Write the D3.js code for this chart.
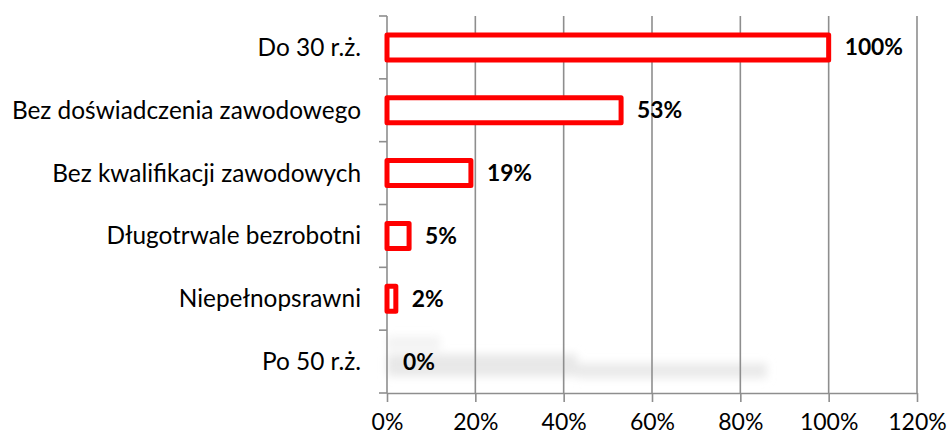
<!DOCTYPE html>
<html>
<head>
<meta charset="utf-8">
<script src="https://cdn.jsdelivr.net/npm/d3@7"></script>
<style>
  html, body { margin: 0; padding: 0; background: #fff; }
  svg { display: block; }
  text { font-family: Lato, "Open Sans", sans-serif; fill: #000; }
</style>
</head>
<body>
<svg id="chart" width="948" height="439"></svg>
<script>
// Share of groups among participants
const categories = [
  "Do 30 r.ż.",
  "Bez doświadczenia zawodowego",
  "Bez kwalifikacji zawodowych",
  "Długotrwale bezrobotni",
  "Niepełnopsrawni",
  "Po 50 r.ż."
];
const values = [1.00, 0.53, 0.19, 0.05, 0.02, 0.00];
const xTicks = [0, 0.2, 0.4, 0.6, 0.8, 1.0, 1.2];

const svg = d3.select("#chart");
const margin = { top: 16, right: 31, bottom: 46, left: 387 };
const W = 948, H = 439;
const innerW = W - margin.left - margin.right;
const innerH = H - margin.top - margin.bottom;

const x = d3.scaleLinear().domain([0, 1.2]).range([0, innerW]);
const y = d3.scaleBand().domain(categories).range([0, innerH]).padding(0);

const g = svg.append("g").attr("transform", `translate(${margin.left},${margin.top})`);

// soft grey haze in the bottom row
const defs = svg.append("defs");
defs.append("filter").attr("id", "haze").attr("x", "-20%").attr("y", "-100%")
  .attr("width", "140%").attr("height", "300%")
  .append("feGaussianBlur").attr("stdDeviation", 4.5);
const hz = g.append("g").attr("filter", "url(#haze)");
const lastBand = y(categories[categories.length - 1]);
hz.append("rect").attr("x", x(0)).attr("y", lastBand + 6).attr("width", x(0.12)).attr("height", 14)
  .attr("fill", "#f3f3f3");
hz.append("rect").attr("x", x(0)).attr("y", lastBand + 24).attr("width", x(0.43)).attr("height", 22)
  .attr("fill", "#e8e8e8");
hz.append("rect").attr("x", x(0.43)).attr("y", lastBand + 33).attr("width", x(0.86) - x(0.43)).attr("height", 15)
  .attr("fill", "#eaeaea");

// vertical gridlines
g.selectAll("line.grid").data(xTicks.slice(1)).join("line")
  .attr("class", "grid")
  .attr("x1", d => x(d)).attr("x2", d => x(d))
  .attr("y1", 0).attr("y2", innerH)
  .attr("stroke", "#8e8e8e").attr("stroke-width", 1.6);

// bottom axis
const xAxis = d3.axisBottom(x).tickValues(xTicks).tickFormat(d3.format(".0%"))
  .tickSize(9).tickSizeOuter(0).tickPadding(12);
const gx = g.append("g").attr("transform", `translate(0,${innerH})`).call(xAxis);
gx.select(".domain").attr("stroke", "#8e8e8e").attr("stroke-width", 1.6);
gx.selectAll(".tick line").attr("stroke", "#8e8e8e").attr("stroke-width", 1.6);
gx.selectAll(".tick text").attr("font-size", 23).attr("font-family", "Lato, sans-serif").attr("fill", "#000");

// left axis: line with ticks at band boundaries
const boundaries = categories.map(c => y(c)).concat([innerH]);
g.append("line").attr("x1", 0).attr("x2", 0).attr("y1", 0).attr("y2", innerH)
  .attr("stroke", "#8e8e8e").attr("stroke-width", 1.6);
g.selectAll("line.ytick").data(boundaries).join("line")
  .attr("class", "ytick")
  .attr("x1", -8).attr("x2", 0)
  .attr("y1", d => d).attr("y2", d => d)
  .attr("stroke", "#8e8e8e").attr("stroke-width", 1.6);

// category labels
g.selectAll("text.cat").data(categories).join("text")
  .attr("class", "cat")
  .attr("x", -26)
  .attr("y", d => y(d) + y.bandwidth() / 2)
  .attr("dy", "0.35em")
  .attr("text-anchor", "end")
  .attr("font-size", 24.4)
  .text(d => d);

// bars (outlined)
const barH = 25;
const rows = categories.map((c, i) => ({ c, v: values[i] }));
g.selectAll("rect.bar").data(rows.filter(d => d.v > 0)).join("rect")
  .attr("class", "bar")
  .attr("x", x(0))
  .attr("y", d => y(d.c) + y.bandwidth() / 2 - barH / 2)
  .attr("width", d => x(d.v) - x(0))
  .attr("height", barH)
  .attr("fill", "#fff")
  .attr("stroke", "#ff0000")
  .attr("stroke-width", 5)
  .attr("stroke-linejoin", "round");

// value labels
g.selectAll("text.val").data(rows).join("text")
  .attr("class", "val")
  .attr("x", d => x(d.v) + 16)
  .attr("y", d => y(d.c) + y.bandwidth() / 2)
  .attr("dy", "0.35em")
  .attr("font-size", 22.8)
  .attr("font-weight", "bold")
  .text(d => d3.format(".0%")(d.v));
</script>
</body>
</html>
